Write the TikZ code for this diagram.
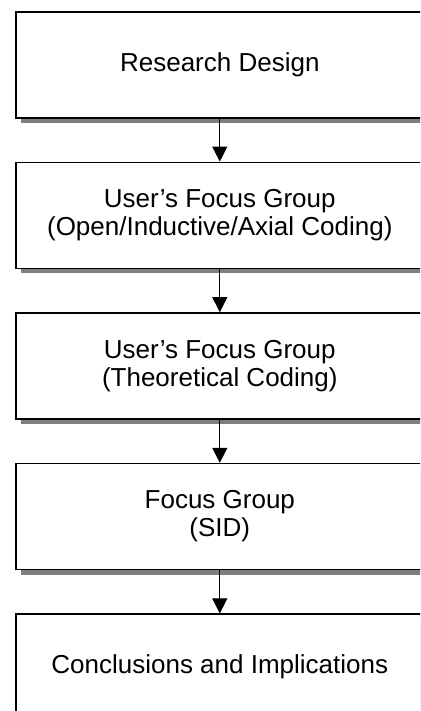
\documentclass[tikz,border=0pt]{standalone}
\usepackage{fontspec}
\setmainfont{Liberation Sans}
\usetikzlibrary{positioning,shadows,arrows.meta}

\begin{document}
\begin{tikzpicture}[every node/.style={font=\fontsize{26}{28}\selectfont},
  stage/.style={draw, line width=1.6pt, fill=white, minimum width=408pt, minimum height=106pt,
    align=center, inner sep=0pt,
    drop shadow={shadow xshift=5pt, shadow yshift=-5pt, fill=black, opacity=0.5}},
  flow/.style={-{Triangle[length=15pt,width=15pt]}, line width=1pt},
  node distance=43pt]

% ---------- page frame (boxes run off right and bottom) ----------
\clip (0,0) rectangle (420pt,-711pt);

% ---------- stages ----------
\node[stage, anchor=north west] (design) at (15pt,-11pt) {Research Design};
\node[stage, below=of design] (axial) {User's Focus Group\\(Open/Inductive/Axial Coding)};
\node[stage, below=of axial] (theory) {User's Focus Group\\(Theoretical Coding)};
\node[stage, below=of theory] (sid) {Focus Group\\(SID)};
\node[stage, below=of sid] (concl) {Conclusions and Implications};

% ---------- flow ----------
\draw[flow] (design) -- (axial);
\draw[flow] (axial) -- (theory);
\draw[flow] (theory) -- (sid);
\draw[flow] (sid) -- (concl);

\end{tikzpicture}
\end{document}
